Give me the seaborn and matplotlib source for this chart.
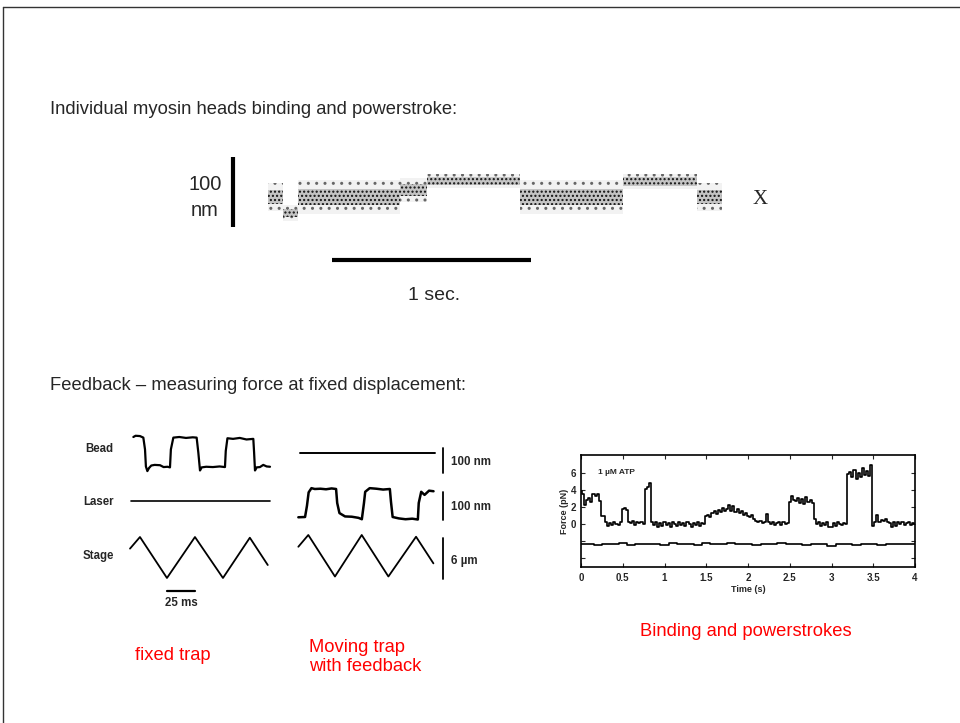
import numpy as np
import matplotlib.pyplot as plt
import seaborn as sns

sns.set_theme(style='white')
plt.rcParams['font.family'] = ['Liberation Sans', 'DejaVu Sans']

W, H = 960, 723

# --- top: single myosin head displacement record (time in s, position in nm)
band_t = [0, 0.075, 0.151, 0.663, 0.799, 1.266, 1.784, 2.156, 2.281]
band_level = [43, 20, 43, 53, 66, 43, 65, 43]
band_core = [10, 6, 11, 8, 6, 12, 6, 10]
band_outer = [20, 11, 24, 17, 10, 24, 11, 20]

# --- fixed trap (time in ms)
beadA_t = [3.0, 5.0, 8.9, 11.9, 13.4, 14.2, 15.5, 17.0, 19.0, 22.0,
           26.8, 30.0, 33.5, 35.7, 36.5, 38.7, 44, 50, 56, 59.5,
           61.0, 62.5, 64.0, 68, 74, 80, 84.8, 85.5, 87.0, 92,
           98, 104, 110.1, 110.8, 111.6, 113.1, 116, 119, 122, 125]
beadA_nm = [100, 104, 103, 98, 60, 5, -10, 0, 8, 10,
            9, 3, 4, 2, 60, 98, 100, 97, 99, 98,
            50, -8, 2, 4, 3, 5, 3, 55, 96, 94,
            97, 92, 94, 50, -8, 2, 3, 10, 5, 4]
laserA_t = [0.9, 125]
laserA_nm = [0, 0]
stageA_t = [0, 8.9, 33, 58, 83, 107, 123]
stageA_um = [1.3, 3, -3, 3, -3, 2.9, -1.1]

# --- moving trap with feedback (time in ms)
laserB_t = [1.8, 122.4]
laserB_nm = [0, 0]
beadB_t = [0.3, 6.3, 8.0, 9.5, 12.0, 15.0, 20.0, 25.0, 30.0, 34.0,
           35.0, 37.0, 42, 48, 54, 57.0, 58.9, 60.0, 64.0, 70,
           76, 82.0, 83.0, 84.5, 90, 96, 102, 107.0, 107.8, 110.0,
           113.0, 117.0, 121.0]
beadB_nm = [-1, 0, 40, 88, 103, 100, 101, 99, 102, 100,
            50, 14, 2, 1, -3, -8, 50, 90, 103, 101,
            98, 100, 55, 0, -5, -8, -6, -9, 50, 90,
            79, 94, 92]
stageB_t = [0.3, 9.2, 33, 56.9, 80.7, 105.4, 120.9]
stageB_um = [1.3, 3, -3, 3, -3, 2.75, -1.1]

# --- force record, 1 uM ATP (every 0.025 s)
force_pN = [3.9, 3.6, 2.3, 2.9, 3.1, 2.6, 3.5, 3.3, 3.6, 2.7,
            1.0, 0.9, 0.2, -0.2, 0.1, -0.1, 0.3, 0.0, -0.1, 0.2,
            1.8, 1.9, 1.7, 0.3, 0.1, 0.4, -0.1, 0.2, 0.1, 0.3,
            0.0, 4.1, 4.4, 4.9, 0.2, -0.1, 0.3, -0.3, 0.1, -0.2,
            0.2, -0.1, 0.1, -0.3, 0.2, 0.0, -0.2, 0.3, -0.1, 0.1,
            -0.2, 0.2, 0.0, -0.3, 0.1, -0.1, 0.2, -0.2, 0.1, 0.0,
            0.9, 1.1, 0.8, 1.3, 1.5, 1.2, 1.7, 1.4, 1.9, 1.5,
            1.8, 2.3, 1.6, 2.1, 1.4, 1.8, 1.3, 1.5, 1.1, 1.3,
            1.0, 0.8, 1.1, 0.6, 0.4, 0.2, 0.4, 0.1, 0.3, 1.2,
            0.2, 0.0, 0.2, -0.1, 0.1, 0.3, -0.1, 0.2, 0.0, 0.1,
            2.6, 3.3, 2.9, 2.7, 3.1, 2.5, 3.0, 2.4, 3.2, 2.6,
            2.9, 2.5, 0.6, 0.0, 0.2, -0.2, 0.1, -0.1, 0.2, -0.3,
            -0.4, 0.1, -0.2, 0.2, 0.0, -0.1, 0.1, 0.0, 5.9, 6.2,
            5.6, 6.4, 5.3, 6.0, 5.5, 6.6, 5.8, 6.3, 5.7, 7.0,
            -0.2, 0.2, 1.1, 0.3, 0.5, 0.4, 0.6, 0.2, 0.1, -0.3,
            0.3, -0.2, 0.2, 0.0, 0.2, -0.1, 0.1, 0.2, -0.1, 0.1,
            0.0]
base_pN = [-2.4, -2.3, -2.5, -2.3, -2.4, -2.2, -2.5, -2.3, -2.4, -2.3,
           -2.5, -2.2, -2.4, -2.3, -2.5, -2.2, -2.3, -2.4, -2.2, -2.4,
           -2.3, -2.5, -2.3, -2.4, -2.2, -2.4, -2.3, -2.5, -2.3, -2.4,
           -2.6, -2.4, -2.3, -2.5, -2.4, -2.3, -2.5, -2.4, -2.3, -2.4,
           -2.4]
force_t = [i * 0.025 for i in range(len(force_pN))]
base_t = [i * 0.1 for i in range(len(base_pN))]


def px_axes(x0, y0, x1, y1):
    ax = fig.add_axes([x0 / W, 1 - y1 / H, (x1 - x0) / W, (y1 - y0) / H])
    ax.set_facecolor('none')
    return ax


def blank(ax):
    ax.set_xticks([])
    ax.set_yticks([])
    for s in ax.spines.values():
        s.set_visible(False)


def ftext(x, y, s, **kw):
    fig.text(x / W, 1 - y / H, s, **kw)


fig = plt.figure(figsize=(W / 100, H / 100), dpi=100)

# slide border
fig.add_artist(plt.Line2D([3 / W, 1], [1 - 7 / H, 1 - 7 / H], color='#333333', lw=1))
fig.add_artist(plt.Line2D([3 / W, 3 / W], [1 - 7 / H, 0], color='#333333', lw=1))

ftext(50, 109, 'Individual myosin heads binding and powerstroke:', fontsize=13.2, va='center')
ftext(50, 386, 'Feedback \u2013 measuring force at fixed displacement:', fontsize=13.2, va='center')

# ---- top record
ax = px_axes(180, 140, 780, 310)
blank(ax)
ax.set_xlim((180 - 268) / 199, (780 - 268) / 199)
ax.set_ylim((227 - 310) / 0.7, (227 - 140) / 0.7)
lev = np.array(band_level + band_level[-1:])
outer = np.array(band_outer + band_outer[-1:])
core = np.array(band_core + band_core[-1:])
ax.fill_between(band_t, lev - outer, lev + outer, step='post', facecolor='#f2f2f2',
                edgecolor='#666666', hatch='..', lw=0)
ax.fill_between(band_t, lev - core, lev + core, step='post', facecolor='#c4c4c4',
                edgecolor='#111111', hatch='....', lw=0)
ax.plot([-0.176, -0.176], [0, 100], color='black', lw=3, solid_capstyle='butt')
ax.plot([0.322, 1.322], [-47, -47], color='black', lw=3, solid_capstyle='butt')
ftext(205, 185, '100', fontsize=14.5, ha='center', va='center')
ftext(205, 210, 'nm', fontsize=14.5, ha='center', va='center')
ftext(760, 199, 'X', fontsize=15, ha='center', va='center', family='Liberation Serif')
ftext(434, 295, '1 sec.', fontsize=14, ha='center', va='center')

small = dict(fontsize=8.3, fontweight='bold', family=['Liberation Sans Narrow', 'Liberation Sans'])
k = 25 / 28

# ---- fixed trap panel
ax = px_axes(60, 425, 290, 482)
blank(ax)
ax.set_xlim((60 - 130) * k, (290 - 130) * k)
ax.set_ylim((468 - 482) / 0.31, (468 - 425) / 0.31)
sns.lineplot(x=beadA_t, y=beadA_nm, ax=ax, color='black', lw=1.6, sort=False, estimator=None)

ax = px_axes(60, 490, 290, 512)
blank(ax)
ax.set_xlim((60 - 130) * k, (290 - 130) * k)
ax.set_ylim(-1, 1)
sns.lineplot(x=laserA_t, y=laserA_nm, ax=ax, color='black', lw=1.2, sort=False, estimator=None)

ax = px_axes(60, 525, 290, 615)
blank(ax)
ax.set_xlim((60 - 130) * k, (290 - 130) * k)
ax.set_ylim((557.5 - 615) / 6.83, (557.5 - 525) / 6.83)
sns.lineplot(x=stageA_t, y=stageA_um, ax=ax, color='black', lw=1.3, sort=False, estimator=None)
ax.plot([33, 58], [-4.9, -4.9], color='black', lw=1.6)
ax.text(45.5, -6.7, '25 ms', ha='center', va='center', **small)

ftext(85, 449, 'Bead', va='center', **small)
ftext(83, 502, 'Laser', va='center', **small)
ftext(83, 556, 'Stage', va='center', **small)

# ---- moving trap panel
ax = px_axes(290, 440, 520, 480)
blank(ax)
ax.set_xlim((290 - 298) * k, (520 - 298) * k)
ax.set_ylim((453 - 480) / 0.25, (453 - 440) / 0.25)
sns.lineplot(x=laserB_t, y=laserB_nm, ax=ax, color='black', lw=1.4, sort=False, estimator=None)
ax.plot([129.5, 129.5], [-80, 20], color='black', lw=1.3)
ax.text(137, -36, '100 nm', va='center', **small)

ax = px_axes(290, 478, 520, 528)
blank(ax)
ax.set_xlim((290 - 298) * k, (520 - 298) * k)
ax.set_ylim((517 - 528) / 0.28, (517 - 478) / 0.28)
sns.lineplot(x=beadB_t, y=beadB_nm, ax=ax, color='black', lw=1.8, sort=False, estimator=None)
ax.plot([129.5, 129.5], [-10, 90], color='black', lw=1.3)
ax.text(137, 36, '100 nm', va='center', **small)

ax = px_axes(290, 525, 520, 590)
blank(ax)
ax.set_xlim((290 - 298) * k, (520 - 298) * k)
ax.set_ylim((555.75 - 590) / 6.92, (555.75 - 525) / 6.92)
sns.lineplot(x=stageB_t, y=stageB_um, ax=ax, color='black', lw=1.3, sort=False, estimator=None)
ax.plot([129.5, 129.5], [-3.4, 2.6], color='black', lw=1.3)
ax.text(137, -0.7, '6 \u00b5m', va='center', **small)

# ---- force record
ax = px_axes(581, 455, 915, 567)
sns.lineplot(x=force_t, y=force_pN, ax=ax, color='black', lw=1.2, sort=False,
             estimator=None, drawstyle='steps-mid')
sns.lineplot(x=base_t, y=base_pN, ax=ax, color='black', lw=1.2, sort=False,
             estimator=None, drawstyle='steps-mid')
ax.set_xlim(0, 4)
ax.set_ylim(-5.06, 8.15)
ax.set_xticks([0, 0.5, 1, 1.5, 2, 2.5, 3, 3.5, 4])
ax.set_xticklabels(['0', '0.5', '1', '1.5', '2', '2.5', '3', '3.5', '4'])
ax.set_yticks([-4, -2, 0, 2, 4, 6])
ax.set_yticklabels(['', '', '0', '2', '4', '6'])
ax.tick_params(direction='in', length=3, width=0.8, labelsize=7, pad=4.5,
               top=True, right=True, bottom=True, left=True)
ax.tick_params(axis='y', pad=3.5)
for lab in ax.get_xticklabels() + ax.get_yticklabels():
    lab.set_fontweight('bold')
for s in ax.spines.values():
    s.set_visible(True)
    s.set_color('black')
    s.set_linewidth(1.2)
ax.set_xlabel('Time (s)', fontsize=6.5, fontweight='bold', labelpad=1)
ax.set_ylabel('Force (pN)', fontsize=6.5, fontweight='bold', labelpad=1)
ax.text(0.2, 6.1, '1 \u00b5M ATP', fontsize=6, fontweight='bold', va='center')

red = dict(fontsize=13.2, color='#ff0000', va='center')
ftext(135, 655, 'fixed trap', **red)
ftext(309, 657, 'Moving trap\nwith feedback', linespacing=1.2, **red)
ftext(640, 632, 'Binding and powerstrokes', **red)

fig.savefig('out.png', dpi=100)
